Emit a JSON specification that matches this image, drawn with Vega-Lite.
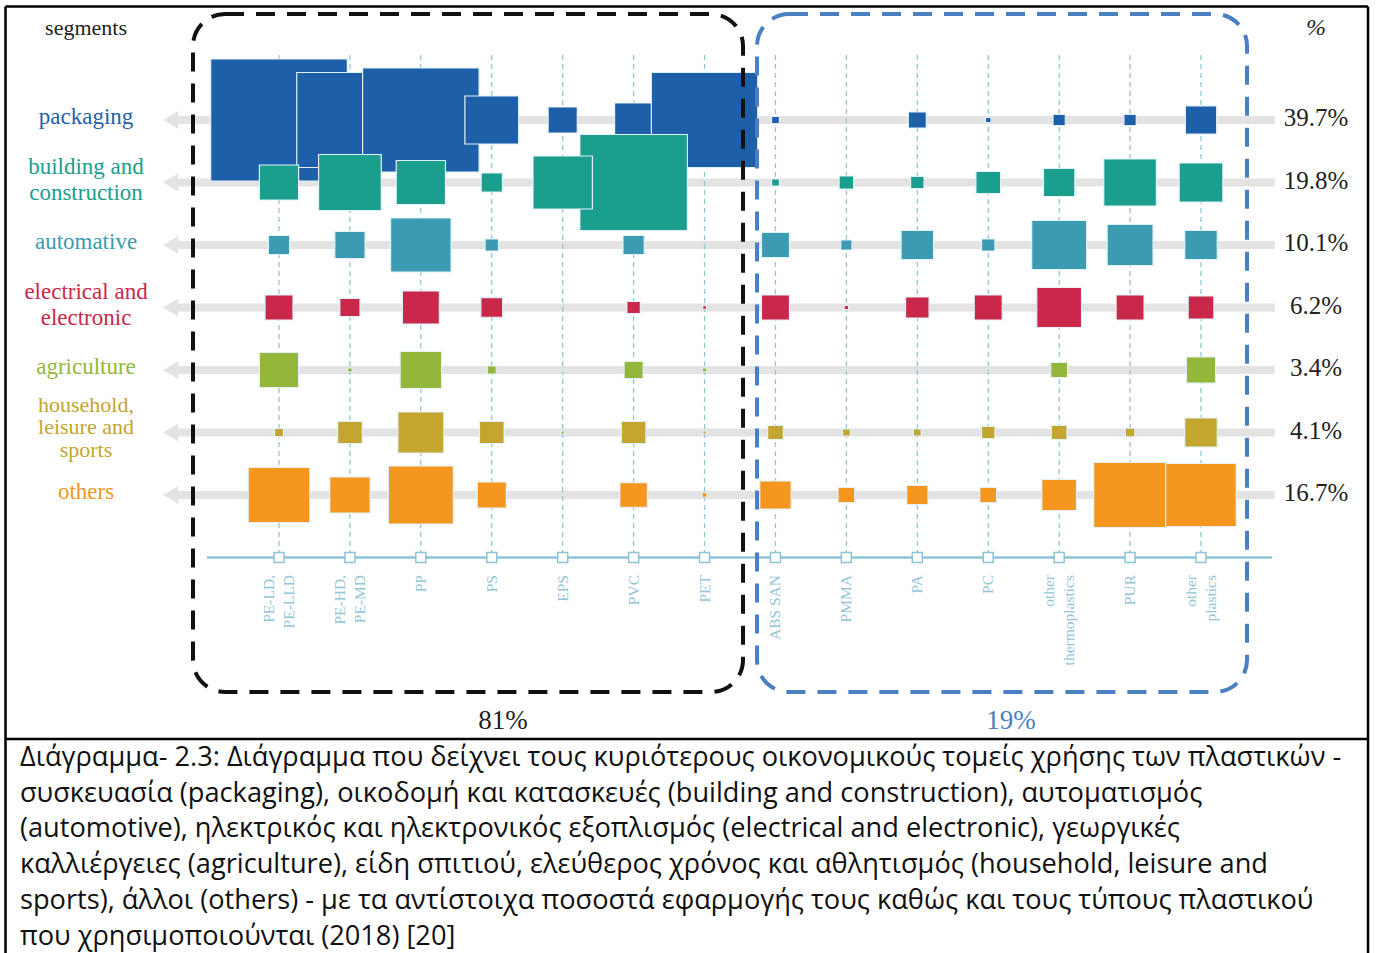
{
  "$schema": "https://vega.github.io/schema/vega-lite/v6.json",
  "width": 1376,
  "height": 953,
  "autosize": "none",
  "padding": 0,
  "background": "white",
  "config": {"view": {"stroke": null}},
  "datasets": {
    "segments": [
      {"seg": "packaging", "label": "packaging", "row": 0, "pct": "39.7%"},
      {"seg": "building and construction", "label": "building and\nconstruction", "row": 1, "pct": "19.8%"},
      {"seg": "automotive", "label": "automative", "row": 2, "pct": "10.1%"},
      {"seg": "electrical and electronic", "label": "electrical and\nelectronic", "row": 3, "pct": "6.2%"},
      {"seg": "agriculture", "label": "agriculture", "row": 4, "pct": "3.4%"},
      {"seg": "household, leisure and sports", "label": "household,\nleisure and\nsports", "row": 5, "pct": "4.1%"},
      {"seg": "others", "label": "others", "row": 6, "pct": "16.7%"}
    ],
    "plastics": [
      {"plastic": "PE-LD, PE-LLD", "label": "PE-LD,\nPE-LLD", "col": 0},
      {"plastic": "PE-HD, PE-MD", "label": "PE-HD,\nPE-MD", "col": 1},
      {"plastic": "PP", "label": "PP", "col": 2},
      {"plastic": "PS", "label": "PS", "col": 3},
      {"plastic": "EPS", "label": "EPS", "col": 4},
      {"plastic": "PVC", "label": "PVC", "col": 5},
      {"plastic": "PET", "label": "PET", "col": 6},
      {"plastic": "ABS SAN", "label": "ABS SAN", "col": 7},
      {"plastic": "PMMA", "label": "PMMA", "col": 8},
      {"plastic": "PA", "label": "PA", "col": 9},
      {"plastic": "PC", "label": "PC", "col": 10},
      {"plastic": "other thermoplastics", "label": "other\nthermoplastics", "col": 11},
      {"plastic": "PUR", "label": "PUR", "col": 12},
      {"plastic": "other plastics", "label": "other\nplastics", "col": 13}
    ],
    "cells": [
      {"seg": "packaging", "row": 0, "col": 0, "demand": 1488.4},
      {"seg": "packaging", "row": 0, "col": 1, "demand": 902.5},
      {"seg": "packaging", "row": 0, "col": 2, "demand": 1081.6},
      {"seg": "packaging", "row": 0, "col": 3, "demand": 230.4},
      {"seg": "packaging", "row": 0, "col": 4, "demand": 67.6},
      {"seg": "packaging", "row": 0, "col": 5, "demand": 115.6},
      {"seg": "packaging", "row": 0, "col": 6, "demand": 902.5},
      {"seg": "packaging", "row": 0, "col": 7, "demand": 4.9},
      {"seg": "packaging", "row": 0, "col": 9, "demand": 25.6},
      {"seg": "packaging", "row": 0, "col": 10, "demand": 2.5},
      {"seg": "packaging", "row": 0, "col": 11, "demand": 12.1},
      {"seg": "packaging", "row": 0, "col": 12, "demand": 12.1},
      {"seg": "packaging", "row": 0, "col": 13, "demand": 78.4},
      {"seg": "building and construction", "row": 1, "col": 0, "demand": 122.5},
      {"seg": "building and construction", "row": 1, "col": 1, "demand": 313.6},
      {"seg": "building and construction", "row": 1, "col": 2, "demand": 193.6},
      {"seg": "building and construction", "row": 1, "col": 3, "demand": 36.1},
      {"seg": "building and construction", "row": 1, "col": 5, "demand": 921.6},
      {"seg": "building and construction", "row": 1, "col": 4, "demand": 280.9},
      {"seg": "building and construction", "row": 1, "col": 7, "demand": 4.9},
      {"seg": "building and construction", "row": 1, "col": 8, "demand": 16.9},
      {"seg": "building and construction", "row": 1, "col": 9, "demand": 14.4},
      {"seg": "building and construction", "row": 1, "col": 10, "demand": 48.4},
      {"seg": "building and construction", "row": 1, "col": 11, "demand": 78.4},
      {"seg": "building and construction", "row": 1, "col": 12, "demand": 220.9},
      {"seg": "building and construction", "row": 1, "col": 13, "demand": 152.1},
      {"seg": "automotive", "row": 2, "col": 0, "demand": 36.1},
      {"seg": "automotive", "row": 2, "col": 1, "demand": 72.9},
      {"seg": "automotive", "row": 2, "col": 2, "demand": 291.6},
      {"seg": "automotive", "row": 2, "col": 3, "demand": 14.4},
      {"seg": "automotive", "row": 2, "col": 5, "demand": 36.1},
      {"seg": "automotive", "row": 2, "col": 7, "demand": 62.5},
      {"seg": "automotive", "row": 2, "col": 8, "demand": 10.0},
      {"seg": "automotive", "row": 2, "col": 9, "demand": 84.1},
      {"seg": "automotive", "row": 2, "col": 10, "demand": 14.4},
      {"seg": "automotive", "row": 2, "col": 11, "demand": 240.1},
      {"seg": "automotive", "row": 2, "col": 12, "demand": 168.1},
      {"seg": "automotive", "row": 2, "col": 13, "demand": 84.1},
      {"seg": "electrical and electronic", "row": 3, "col": 0, "demand": 62.5},
      {"seg": "electrical and electronic", "row": 3, "col": 1, "demand": 32.4},
      {"seg": "electrical and electronic", "row": 3, "col": 2, "demand": 108.9},
      {"seg": "electrical and electronic", "row": 3, "col": 3, "demand": 38.0},
      {"seg": "electrical and electronic", "row": 3, "col": 5, "demand": 14.4},
      {"seg": "electrical and electronic", "row": 3, "col": 6, "demand": 1.2},
      {"seg": "electrical and electronic", "row": 3, "col": 7, "demand": 62.5},
      {"seg": "electrical and electronic", "row": 3, "col": 8, "demand": 1.6},
      {"seg": "electrical and electronic", "row": 3, "col": 9, "demand": 44.1},
      {"seg": "electrical and electronic", "row": 3, "col": 10, "demand": 62.5},
      {"seg": "electrical and electronic", "row": 3, "col": 11, "demand": 160.0},
      {"seg": "electrical and electronic", "row": 3, "col": 12, "demand": 62.5},
      {"seg": "electrical and electronic", "row": 3, "col": 13, "demand": 52.9},
      {"seg": "agriculture", "row": 4, "col": 0, "demand": 122.5},
      {"seg": "agriculture", "row": 4, "col": 1, "demand": 1.6},
      {"seg": "agriculture", "row": 4, "col": 2, "demand": 136.9},
      {"seg": "agriculture", "row": 4, "col": 3, "demand": 6.4},
      {"seg": "agriculture", "row": 4, "col": 4, "demand": 0.4},
      {"seg": "agriculture", "row": 4, "col": 5, "demand": 28.9},
      {"seg": "agriculture", "row": 4, "col": 6, "demand": 1.6},
      {"seg": "agriculture", "row": 4, "col": 8, "demand": 0.4},
      {"seg": "agriculture", "row": 4, "col": 10, "demand": 0.6},
      {"seg": "agriculture", "row": 4, "col": 11, "demand": 22.5},
      {"seg": "agriculture", "row": 4, "col": 13, "demand": 67.6},
      {"seg": "household, leisure and sports", "row": 5, "col": 0, "demand": 6.4},
      {"seg": "household, leisure and sports", "row": 5, "col": 1, "demand": 48.4},
      {"seg": "household, leisure and sports", "row": 5, "col": 2, "demand": 168.1},
      {"seg": "household, leisure and sports", "row": 5, "col": 3, "demand": 48.4},
      {"seg": "household, leisure and sports", "row": 5, "col": 4, "demand": 0.9},
      {"seg": "household, leisure and sports", "row": 5, "col": 5, "demand": 48.4},
      {"seg": "household, leisure and sports", "row": 5, "col": 6, "demand": 0.9},
      {"seg": "household, leisure and sports", "row": 5, "col": 7, "demand": 19.6},
      {"seg": "household, leisure and sports", "row": 5, "col": 8, "demand": 4.9},
      {"seg": "household, leisure and sports", "row": 5, "col": 9, "demand": 4.9},
      {"seg": "household, leisure and sports", "row": 5, "col": 10, "demand": 14.4},
      {"seg": "household, leisure and sports", "row": 5, "col": 11, "demand": 19.6},
      {"seg": "household, leisure and sports", "row": 5, "col": 12, "demand": 7.2},
      {"seg": "household, leisure and sports", "row": 5, "col": 13, "demand": 84.1},
      {"seg": "others", "row": 6, "col": 0, "demand": 302.5},
      {"seg": "others", "row": 6, "col": 1, "demand": 129.6},
      {"seg": "others", "row": 6, "col": 2, "demand": 336.4},
      {"seg": "others", "row": 6, "col": 3, "demand": 67.6},
      {"seg": "others", "row": 6, "col": 5, "demand": 60.0},
      {"seg": "others", "row": 6, "col": 6, "demand": 2.0},
      {"seg": "others", "row": 6, "col": 7, "demand": 78.4},
      {"seg": "others", "row": 6, "col": 8, "demand": 22.5},
      {"seg": "others", "row": 6, "col": 9, "demand": 36.1},
      {"seg": "others", "row": 6, "col": 10, "demand": 22.5},
      {"seg": "others", "row": 6, "col": 11, "demand": 96.1},
      {"seg": "others", "row": 6, "col": 12, "demand": 422.5},
      {"seg": "others", "row": 6, "col": 13, "demand": 396.9}
    ],
    "one": [{"k": 1}]
  },
  "layer": [
    {
      "data": {"name": "segments"},
      "mark": {"type": "rule", "color": "#e3e3e3", "strokeWidth": 8},
      "encoding": {
        "x": {"datum": -1.466, "type": "quantitative", "scale": {"domain": [-3.9338, 15.4674], "nice": false, "zero": false}, "axis": null},
        "x2": {"datum": 14.04},
        "y": {"field": "row", "type": "quantitative", "scale": {"domain": [-1.92, 13.328], "nice": false, "zero": false, "reverse": true}, "axis": null}
      }
    },
    {
      "data": {"name": "segments"},
      "mark": {"type": "point", "shape": "M-1,0L0.7,-1L0.7,1Z", "filled": true, "color": "#e3e3e3", "size": 324, "opacity": 1},
      "encoding": {
        "x": {"datum": -1.509, "type": "quantitative", "scale": {"domain": [-3.9338, 15.4674], "nice": false, "zero": false}, "axis": null},
        "y": {"field": "row", "type": "quantitative", "scale": {"domain": [-1.92, 13.328], "nice": false, "zero": false, "reverse": true}, "axis": null}
      }
    },
    {
      "data": {"name": "plastics"},
      "mark": {"type": "rule", "color": "#93c6d8", "strokeWidth": 1.3, "strokeDash": [5, 4]},
      "encoding": {
        "x": {"field": "col", "type": "quantitative", "scale": {"domain": [-3.9338, 15.4674], "nice": false, "zero": false}, "axis": null},
        "y": {"datum": -1.04, "type": "quantitative", "scale": {"domain": [-1.92, 13.328], "nice": false, "zero": false, "reverse": true}, "axis": null},
        "y2": {"datum": 7.0}
      }
    },
    {
      "data": {"name": "one"},
      "mark": {"type": "rule", "color": "#8fc3d6", "strokeWidth": 2.5},
      "encoding": {
        "x": {"datum": -1.015, "type": "quantitative", "scale": {"domain": [-3.9338, 15.4674], "nice": false, "zero": false}, "axis": null},
        "x2": {"datum": 14.0},
        "y": {"datum": 7.0, "type": "quantitative", "scale": {"domain": [-1.92, 13.328], "nice": false, "zero": false, "reverse": true}, "axis": null}
      }
    },
    {
      "data": {"name": "plastics"},
      "mark": {"type": "point", "shape": "square", "filled": true, "fill": "white", "stroke": "#8fc3d6", "strokeWidth": 1.5, "size": 100, "opacity": 1},
      "encoding": {
        "x": {"field": "col", "type": "quantitative", "scale": {"domain": [-3.9338, 15.4674], "nice": false, "zero": false}, "axis": null},
        "y": {"datum": 7.0, "type": "quantitative", "scale": {"domain": [-1.92, 13.328], "nice": false, "zero": false, "reverse": true}, "axis": null}
      }
    },
    {
      "data": {"name": "cells"},
      "mark": {"type": "point", "shape": "M-1.12,-1H1.12V1H-1.12Z", "filled": true, "opacity": 1, "stroke": "#e2f1f8", "strokeWidth": 1.2},
      "encoding": {
        "x": {"field": "col", "type": "quantitative", "scale": {"domain": [-3.9338, 15.4674], "nice": false, "zero": false}, "axis": null},
        "y": {"field": "row", "type": "quantitative", "scale": {"domain": [-1.92, 13.328], "nice": false, "zero": false, "reverse": true}, "axis": null},
        "size": {"field": "demand", "type": "quantitative", "scale": {"type": "linear", "domain": [0, 1488.4], "range": [0, 14884], "zero": true}, "legend": null},
        "color": {"field": "seg", "type": "nominal", "scale": {"domain": ["packaging", "building and construction", "automotive", "electrical and electronic", "agriculture", "household, leisure and sports", "others"], "range": ["#1d5fa9", "#1a9e8e", "#3a9bb3", "#c9284b", "#94b63b", "#c4a52f", "#f5961e"]}, "legend": null},
        "order": {"field": "row"}
      }
    },
    {
      "data": {"name": "plastics"},
      "transform": [{"filter": "datum.col != 0 && datum.col != 1 && datum.col != 11 && datum.col != 13"}],
      "mark": {"type": "text", "angle": 270, "align": "right", "baseline": "middle", "font": "Liberation Serif", "fontSize": 15.5, "lineHeight": 20, "lineBreak": "\n", "color": "#92c5d6"},
      "encoding": {
        "x": {"field": "col", "type": "quantitative", "scale": {"domain": [-3.9338, 15.4674], "nice": false, "zero": false}, "axis": null},
        "y": {"datum": 7.28, "type": "quantitative", "scale": {"domain": [-1.92, 13.328], "nice": false, "zero": false, "reverse": true}, "axis": null},
        "text": {"field": "label"}
      }
    },
    {
      "data": {"name": "plastics"},
      "transform": [{"filter": "datum.col == 0 || datum.col == 1 || datum.col == 11 || datum.col == 13"}],
      "mark": {"type": "text", "angle": 270, "align": "right", "baseline": "middle", "font": "Liberation Serif", "fontSize": 15.5, "lineHeight": 20, "lineBreak": "\n", "color": "#92c5d6", "dy": -10},
      "encoding": {
        "x": {"field": "col", "type": "quantitative", "scale": {"domain": [-3.9338, 15.4674], "nice": false, "zero": false}, "axis": null},
        "y": {"datum": 7.28, "type": "quantitative", "scale": {"domain": [-1.92, 13.328], "nice": false, "zero": false, "reverse": true}, "axis": null},
        "text": {"field": "label"}
      }
    },
    {
      "data": {"name": "segments"},
      "transform": [{"filter": "datum.row == 0 || datum.row == 2 || datum.row == 4 || datum.row == 6"}],
      "mark": {"type": "text", "align": "center", "baseline": "middle", "font": "Liberation Serif", "fontSize": 23, "dy": -3},
      "encoding": {
        "x": {"datum": -2.721, "type": "quantitative", "scale": {"domain": [-3.9338, 15.4674], "nice": false, "zero": false}, "axis": null},
        "y": {"field": "row", "type": "quantitative", "scale": {"domain": [-1.92, 13.328], "nice": false, "zero": false, "reverse": true}, "axis": null},
        "text": {"field": "label"},
        "color": {"field": "seg", "type": "nominal", "legend": null}
      }
    },
    {
      "data": {"name": "segments"},
      "transform": [{"filter": "datum.row == 1 || datum.row == 3"}],
      "mark": {"type": "text", "align": "center", "baseline": "middle", "font": "Liberation Serif", "fontSize": 23, "lineHeight": 26, "lineBreak": "\n", "dy": -16},
      "encoding": {
        "x": {"datum": -2.721, "type": "quantitative", "scale": {"domain": [-3.9338, 15.4674], "nice": false, "zero": false}, "axis": null},
        "y": {"field": "row", "type": "quantitative", "scale": {"domain": [-1.92, 13.328], "nice": false, "zero": false, "reverse": true}, "axis": null},
        "text": {"field": "label"},
        "color": {"field": "seg", "type": "nominal", "legend": null}
      }
    },
    {
      "data": {"name": "segments"},
      "transform": [{"filter": "datum.row == 5"}],
      "mark": {"type": "text", "align": "center", "baseline": "middle", "font": "Liberation Serif", "fontSize": 22, "lineHeight": 22.5, "lineBreak": "\n", "dy": -28},
      "encoding": {
        "x": {"datum": -2.721, "type": "quantitative", "scale": {"domain": [-3.9338, 15.4674], "nice": false, "zero": false}, "axis": null},
        "y": {"field": "row", "type": "quantitative", "scale": {"domain": [-1.92, 13.328], "nice": false, "zero": false, "reverse": true}, "axis": null},
        "text": {"field": "label"},
        "color": {"field": "seg", "type": "nominal", "legend": null}
      }
    },
    {
      "data": {"name": "segments"},
      "mark": {"type": "text", "align": "center", "baseline": "middle", "font": "Liberation Serif", "fontSize": 25, "color": "#222222", "dy": -2},
      "encoding": {
        "x": {"datum": 14.622, "type": "quantitative", "scale": {"domain": [-3.9338, 15.4674], "nice": false, "zero": false}, "axis": null},
        "y": {"field": "row", "type": "quantitative", "scale": {"domain": [-1.92, 13.328], "nice": false, "zero": false, "reverse": true}, "axis": null},
        "text": {"field": "pct"}
      }
    },
    {
      "data": {"name": "one"},
      "mark": {"type": "rect", "filled": false, "stroke": "#111111", "strokeWidth": 4, "strokeDash": [19, 12], "cornerRadius": 32},
      "encoding": {
        "x": {"datum": -1.2126, "type": "quantitative", "scale": {"domain": [-3.9338, 15.4674], "nice": false, "zero": false}, "axis": null},
        "x2": {"datum": 6.5426},
        "y": {"datum": -1.696, "type": "quantitative", "scale": {"domain": [-1.92, 13.328], "nice": false, "zero": false, "reverse": true}, "axis": null},
        "y2": {"datum": 9.152}
      }
    },
    {
      "data": {"name": "one"},
      "mark": {"type": "rect", "filled": false, "stroke": "#4a7fc2", "strokeWidth": 4, "strokeDash": [19, 12], "cornerRadius": 32},
      "encoding": {
        "x": {"datum": 6.740, "type": "quantitative", "scale": {"domain": [-3.9338, 15.4674], "nice": false, "zero": false}, "axis": null},
        "x2": {"datum": 13.649},
        "y": {"datum": -1.696, "type": "quantitative", "scale": {"domain": [-1.92, 13.328], "nice": false, "zero": false, "reverse": true}, "axis": null},
        "y2": {"datum": 9.152}
      }
    },
    {
      "data": {"name": "one"},
      "mark": {"type": "text", "text": "segments", "align": "center", "baseline": "middle", "font": "Liberation Serif", "fontSize": 22, "color": "#222222"},
      "encoding": {
        "x": {"datum": -2.721, "type": "quantitative", "scale": {"domain": [-3.9338, 15.4674], "nice": false, "zero": false}, "axis": null},
        "y": {"datum": -1.472, "type": "quantitative", "scale": {"domain": [-1.92, 13.328], "nice": false, "zero": false, "reverse": true}, "axis": null}
      }
    },
    {
      "data": {"name": "one"},
      "mark": {"type": "text", "text": "%", "align": "center", "baseline": "middle", "font": "Liberation Serif", "fontSize": 24, "fontStyle": "italic", "color": "#222222"},
      "encoding": {
        "x": {"datum": 14.622, "type": "quantitative", "scale": {"domain": [-3.9338, 15.4674], "nice": false, "zero": false}, "axis": null},
        "y": {"datum": -1.472, "type": "quantitative", "scale": {"domain": [-1.92, 13.328], "nice": false, "zero": false, "reverse": true}, "axis": null}
      }
    },
    {
      "data": {"name": "one"},
      "mark": {"type": "text", "text": "81%", "align": "center", "baseline": "middle", "font": "Liberation Serif", "fontSize": 27, "color": "#222222"},
      "encoding": {
        "x": {"datum": 3.158, "type": "quantitative", "scale": {"domain": [-3.9338, 15.4674], "nice": false, "zero": false}, "axis": null},
        "y": {"datum": 9.616, "type": "quantitative", "scale": {"domain": [-1.92, 13.328], "nice": false, "zero": false, "reverse": true}, "axis": null}
      }
    },
    {
      "data": {"name": "one"},
      "mark": {"type": "text", "text": "19%", "align": "center", "baseline": "middle", "font": "Liberation Serif", "fontSize": 27, "color": "#4a7fc2"},
      "encoding": {
        "x": {"datum": 10.322, "type": "quantitative", "scale": {"domain": [-3.9338, 15.4674], "nice": false, "zero": false}, "axis": null},
        "y": {"datum": 9.616, "type": "quantitative", "scale": {"domain": [-1.92, 13.328], "nice": false, "zero": false, "reverse": true}, "axis": null}
      }
    },
    {
      "data": {"name": "one"},
      "mark": {"type": "rule", "color": "#000000", "strokeWidth": 2.5},
      "encoding": {
        "x": {"datum": -3.856, "type": "quantitative", "scale": {"domain": [-3.9338, 15.4674], "nice": false, "zero": false}, "axis": null},
        "x2": {"datum": 15.355},
        "y": {"datum": -1.816, "type": "quantitative", "scale": {"domain": [-1.92, 13.328], "nice": false, "zero": false, "reverse": true}, "axis": null}
      }
    },
    {
      "data": {"name": "one"},
      "mark": {"type": "rule", "color": "#000000", "strokeWidth": 2.5},
      "encoding": {
        "x": {"datum": -3.856, "type": "quantitative", "scale": {"domain": [-3.9338, 15.4674], "nice": false, "zero": false}, "axis": null},
        "x2": {"datum": 15.355},
        "y": {"datum": 9.904, "type": "quantitative", "scale": {"domain": [-1.92, 13.328], "nice": false, "zero": false, "reverse": true}, "axis": null}
      }
    },
    {
      "data": {"name": "one"},
      "mark": {"type": "rule", "color": "#000000", "strokeWidth": 2.5},
      "encoding": {
        "x": {"datum": -3.856, "type": "quantitative", "scale": {"domain": [-3.9338, 15.4674], "nice": false, "zero": false}, "axis": null},
        "y": {"datum": -1.816, "type": "quantitative", "scale": {"domain": [-1.92, 13.328], "nice": false, "zero": false, "reverse": true}, "axis": null},
        "y2": {"datum": 13.328}
      }
    },
    {
      "data": {"name": "one"},
      "mark": {"type": "rule", "color": "#000000", "strokeWidth": 2.5},
      "encoding": {
        "x": {"datum": 15.355, "type": "quantitative", "scale": {"domain": [-3.9338, 15.4674], "nice": false, "zero": false}, "axis": null},
        "y": {"datum": -1.816, "type": "quantitative", "scale": {"domain": [-1.92, 13.328], "nice": false, "zero": false, "reverse": true}, "axis": null},
        "y2": {"datum": 13.328}
      }
    },
    {
      "data": {"name": "one"},
      "mark": {"type": "text", "text": "Διάγραμμα- 2.3: Διάγραμμα που δείχνει τους κυριότερους οικονομικούς τομείς χρήσης των πλαστικών -\nσυσκευασία (packaging), οικοδομή και κατασκευές (building and construction), αυτοματισμός\n(automotive), ηλεκτρικός και ηλεκτρονικός εξοπλισμός (electrical and electronic), γεωργικές\nκαλλιέργειες (agriculture), είδη σπιτιού, ελεύθερος χρόνος και αθλητισμός (household, leisure and\nsports), άλλοι (others) - με τα αντίστοιχα ποσοστά εφαρμογής τους καθώς και τους τύπους πλαστικού\nπου χρησιμοποιούνται (2018) [20]", "lineBreak": "\n", "align": "left", "baseline": "top", "font": "Open Sans", "fontSize": 27.2, "lineHeight": 35.7, "color": "#111111"},
      "encoding": {
        "x": {"datum": -3.652, "type": "quantitative", "scale": {"domain": [-3.9338, 15.4674], "nice": false, "zero": false}, "axis": null},
        "y": {"datum": 10.0, "type": "quantitative", "scale": {"domain": [-1.92, 13.328], "nice": false, "zero": false, "reverse": true}, "axis": null}
      }
    }
  ]
}
